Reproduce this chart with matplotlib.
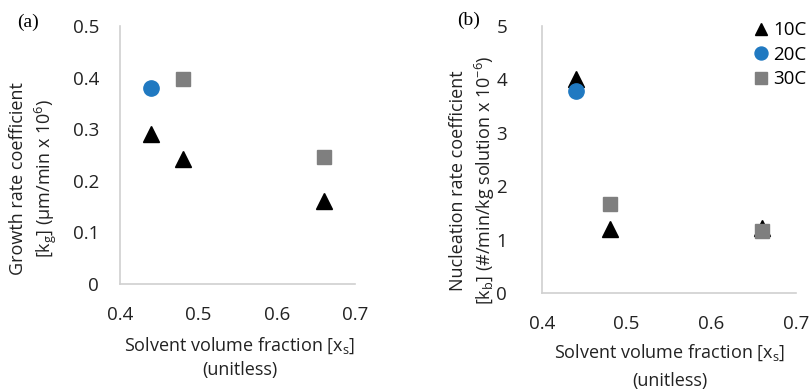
import matplotlib
matplotlib.use('Agg')
from matplotlib import pyplot as plt

plt.rcParams['font.family'] = ['Open Sans', 'DejaVu Sans']
plt.rcParams['mathtext.fontset'] = 'custom'
plt.rcParams['mathtext.rm'] = 'Open Sans'
plt.rcParams['mathtext.it'] = 'Open Sans'

# data
series = ['10C', '20C', '30C']
x_10c = [0.44, 0.48, 0.66]
x_20c = [0.44]
x_30c = [0.48, 0.66]

growth_10c = [0.29, 0.243, 0.16]
growth_20c = [0.379]
growth_30c = [0.397, 0.247]

nucl_10c = [4.0, 1.2, 1.22]
nucl_20c = [3.78]
nucl_30c = [1.66, 1.16]

x_ticks = [0.4, 0.5, 0.6, 0.7]
x_tick_labels = ['0.4', '0.5', '0.6', '0.7']

styles = {
    '10C': dict(marker='^', color='black', ms=11),
    '20C': dict(marker='o', color='#2079c1', ms=11),
    '30C': dict(marker='s', color='#7f7f7f', ms=10.5),
}

fig = plt.figure(figsize=(8.11, 3.92), dpi=100)
ax1 = fig.add_axes([0.148, 0.2755, 0.290, 0.658])
ax2 = fig.add_axes([0.668, 0.2526, 0.314, 0.681])


def style_axes(ax, ymax, yticks):
    ax.set_xlim(0.4, 0.7)
    ax.set_ylim(0, ymax)
    ax.set_xticks(x_ticks)
    ax.set_xticklabels(x_tick_labels)
    ax.set_yticks(yticks)
    for s in ['top', 'right']:
        ax.spines[s].set_visible(False)
    for s in ['left', 'bottom']:
        ax.spines[s].set_color('#d0d0d0')
        ax.spines[s].set_linewidth(1.2)
    ax.tick_params(length=0, labelsize=13.5, colors='#222222')
    ax.tick_params(axis='x', pad=16)


def plot_panel(ax, ys10, ys20, ys30):
    ax.plot(x_10c, ys10, linestyle='none', label='10C', **styles['10C'])
    ax.plot(x_20c, ys20, linestyle='none', label='20C', **styles['20C'])
    ax.plot(x_30c, ys30, linestyle='none', label='30C', **styles['30C'])


plot_panel(ax1, growth_10c, growth_20c, growth_30c)
style_axes(ax1, 0.5, [0, 0.1, 0.2, 0.3, 0.4, 0.5])
ax1.set_yticklabels(['0', '0.1', '0.2', '0.3', '0.4', '0.5'])
ax1.tick_params(axis='y', pad=15)

plot_panel(ax2, nucl_10c, nucl_20c, nucl_30c)
style_axes(ax2, 5, [0, 1, 2, 3, 4, 5])
ax2.tick_params(axis='y', pad=25)

leg = ax2.legend(loc='upper right', bbox_to_anchor=(1.085, 1.06), frameon=False,
                 fontsize=13.5, handletextpad=0.05, labelspacing=0.35,
                 handlelength=1.2, markerscale=0.85, borderaxespad=0.2)

# axis titles
lab = dict(fontsize=13, color='#222222', ha='center', va='center')
fig.text(0.022, 0.545, 'Growth rate coefficient', rotation=90, **lab)
fig.text(0.057, 0.545, r'[k$_{\mathrm{g}}$] (µm/min x 10$^{6}$)', rotation=90, **lab)
fig.text(0.296, 0.118, r'Solvent volume fraction [x$_{\mathrm{s}}$]', **lab)
fig.text(0.296, 0.055, '(unitless)', **lab)

fig.text(0.565, 0.540, 'Nucleation rate coefficient', rotation=90, **lab)
fig.text(0.598, 0.540, r'[k$_{\mathrm{b}}$] (#/min/kg solution x 10$^{-6}$)', rotation=90, **lab)
fig.text(0.826, 0.099, r'Solvent volume fraction [x$_{\mathrm{s}}$]', **lab)
fig.text(0.826, 0.028, '(unitless)', **lab)

# panel tags
fig.text(0.021, 0.944, '(a)', fontsize=14, family='Liberation Serif', ha='left', va='center')
fig.text(0.564, 0.949, '(b)', fontsize=14, family='Liberation Serif', ha='left', va='center')

fig.savefig('out.png', dpi=100)
